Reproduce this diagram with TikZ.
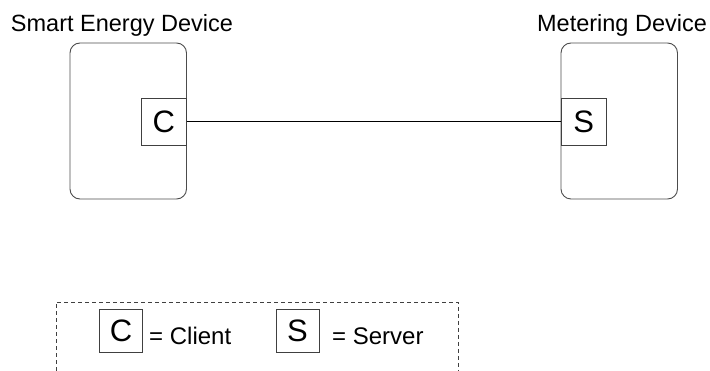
\documentclass[tikz,border=0pt]{standalone}
\usepackage{fontspec}
\setmainfont{Liberation Sans}
\begin{document}
\begin{tikzpicture}[x=1pt,y=-1pt,
  device/.style={draw=black!70, line width=0.9pt, rounded corners=10pt},
  port/.style={draw=black!75, line width=0.9pt, fill=white, inner sep=0pt,
    minimum width=45pt, minimum height=47pt, font=\fontsize{31}{35}\selectfont},
  lport/.style={draw=black!75, line width=0.9pt, inner sep=0pt,
    minimum width=43pt, minimum height=43pt, font=\fontsize{31}{35}\selectfont},
  title/.style={inner sep=0pt, font=\fontsize{23.5}{27}\selectfont},
  legtext/.style={inner sep=0pt, anchor=base west, font=\fontsize{24}{28}\selectfont},
  link/.style={draw=black, line width=1.3pt}]
\useasboundingbox (0,0) rectangle (710,371);
% devices
\draw[device] (70,43) rectangle (186.5,199);
\draw[device] (561,43) rectangle (677.5,199);
\node[title, anchor=base] (sedl) at (122,31.5) {Smart Energy Device};
\node[title, anchor=base] (mdl) at (622,31.5) {Metering Device};
% ports
\node[port] (c) at (163.75,121.75) {C};
\node[port] (s) at (583.75,121.75) {S};
\draw[link] (c.east) -- (s.west);
% legend
\draw[draw=black!75, line width=0.9pt, dash pattern=on 4pt off 3pt]
  (56,371) -- (56,302) -- (458,302) -- (458,371);
\node[lport] (lc) at (121,330.5) {C};
\node[legtext] (lct) at (149,344.5) {= Client};
\node[legtext] (lst) at (332,344.5) {= Server};
\node[lport] (ls) at (297.5,330.5) {S};
\end{tikzpicture}
\end{document}
